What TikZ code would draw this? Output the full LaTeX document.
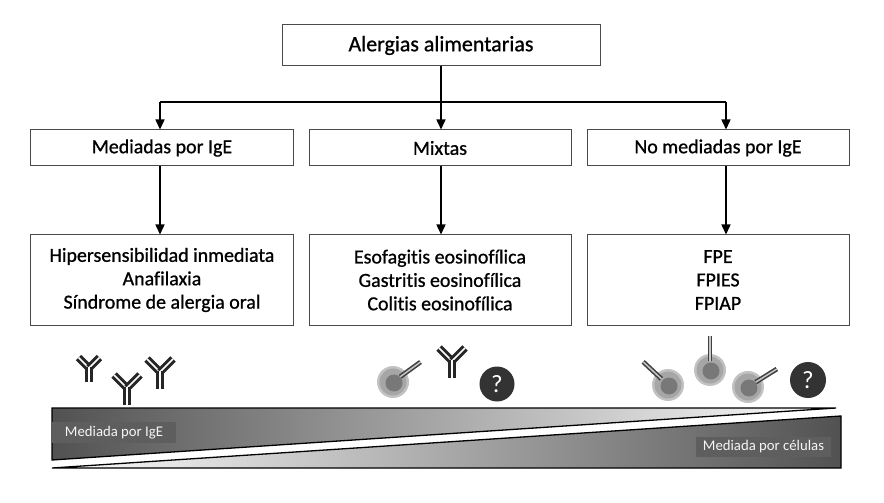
\documentclass[tikz,border=0pt]{standalone}
\usepackage{fontspec}
\setmainfont{Carlito}[Ligatures=NoCommon]
\newfontfamily\boxfont{Carlito}[Ligatures=NoCommon,FakeBold=0.9]
\usetikzlibrary{arrows.meta}
\definecolor{boxline}{HTML}{4A4A4A}
\definecolor{labfill}{HTML}{5E5E5E}
\definecolor{qfill}{HTML}{333333}
\definecolor{cellrim}{HTML}{C2C2C2}
\definecolor{cellbody}{HTML}{A6A6A6}
\definecolor{cellnuc}{HTML}{787878}
\tikzset{
  box/.style={draw=boxline, line width=1bp, minimum width=262bp, align=center, inner sep=0pt,
    font=\boxfont\fontsize{20}{23.5}\selectfont},
  arr/.style={line width=1.5bp, draw=black, -{Triangle[length=10bp,width=9bp]}},
  joint/.style={line width=1.5bp, draw=black},
  abline/.style={draw=black!85, double=white, double distance=1.5bp, line width=3bp},
  recep/.style={draw=gray!50!black, double=gray!45, double distance=1.5bp, line width=1.6bp},
  lab/.style={fill=labfill, text=gray!8, inner sep=0pt, font=\fontsize{14.8}{15}\selectfont},
  qm/.style={circle, fill=qfill, text=white, inner sep=0pt, font=\fontsize{25}{25}\selectfont},
  wedge/.style={line width=1.3bp, draw=black},
  pics/antibody/.style={code={
    \draw[abline] (0,0) -- (-13,-13);
    \draw[abline] (0,0) -- (13,-13);
    \draw[abline] (0,-1) -- (0,17);
  }},
  pics/cell/.style={code={
    \fill[cellrim] (0,0) circle (16);
    \fill[cellbody] (0,0) circle (13.5);
    \fill[cellnuc] (1,1) circle (8.5);
    \draw[recep] (#1:9) -- (#1:34);
  }}
}
\begin{document}
\begin{tikzpicture}[x=1bp,y=-1bp]
\useasboundingbox (0,0) rectangle (884,503);
\fill[white] (0,0) rectangle (884,503);

% boxes
\node[box, minimum width=318bp, minimum height=41bp, font=\boxfont\fontsize{22}{24}\selectfont] (top) at (441,45.5) {Alergias alimentarias};
\node[box, minimum height=36bp] (lt) at (162,148) {Mediadas por IgE};
\node[box, minimum height=36bp] (mt) at (440,148) {Mixtas};
\node[box, minimum height=36bp] (rt) at (718,148) {No mediadas por IgE};
\node[box, minimum height=90bp] (lb) at (162,280) {Hipersensibilidad inmediata\\Anafilaxia\\Síndrome de alergia oral};
\node[box, minimum height=90bp] (mb) at (440,280) {Esofagitis eosinofílica\\Gastritis eosinofílica\\Colitis eosinofílica};
\node[box, minimum height=90bp] (rb) at (718,280) {FPE\\FPIES\\FPIAP};

% connectors
\coordinate (jL) at (160,102);
\coordinate (jR) at (726,102);
\draw[joint] (jL) -- (jR);
\draw[arr] (top.south) -- (top.south |- mt.north);
\draw[arr] (jL) -- (jL |- lt.north);
\draw[arr] (jR) -- (jR |- rt.north);
\draw[arr] (jL |- lt.south) -- (jL |- lb.north);
\draw[arr] (top.south |- mt.south) -- (top.south |- mb.north);
\draw[arr] (jR |- rt.south) -- (jR |- rb.north);

% antibodies
\pic[scale=0.8] at (89,368) {antibody};
\pic at (127,388) {antibody};
\pic at (160,372) {antibody};
\pic at (452,361) {antibody};

% cells
\pic at (393,382) {cell=-36};
\pic at (668,385) {cell=-137};
\pic at (710,370) {cell=-90};
\pic at (748,387) {cell=-32};

% question marks
\node[qm, minimum size=35bp] (q1) at (497,384) {?};
\node[qm, minimum size=36bp] (q2) at (808,380) {?};

% wedges
\shade[left color=black!68, right color=white] (52,408) -- (836,408) -- (52,460) -- cycle;
\draw[wedge] (836,408) -- (52,408) -- (52,460) -- cycle;
\shade[left color=white, right color=black!68] (52,468) -- (841,416) -- (841,468) -- cycle;
\draw[wedge] (52,468) -- (841,416) -- (841,468) -- cycle;

% labels
\node[lab, minimum width=124bp, minimum height=21bp] (l1) at (114,432.5) {Mediada por IgE};
\node[lab, minimum width=135bp, minimum height=20bp] (l2) at (763.5,447) {Mediada por células};
\end{tikzpicture}
\end{document}
